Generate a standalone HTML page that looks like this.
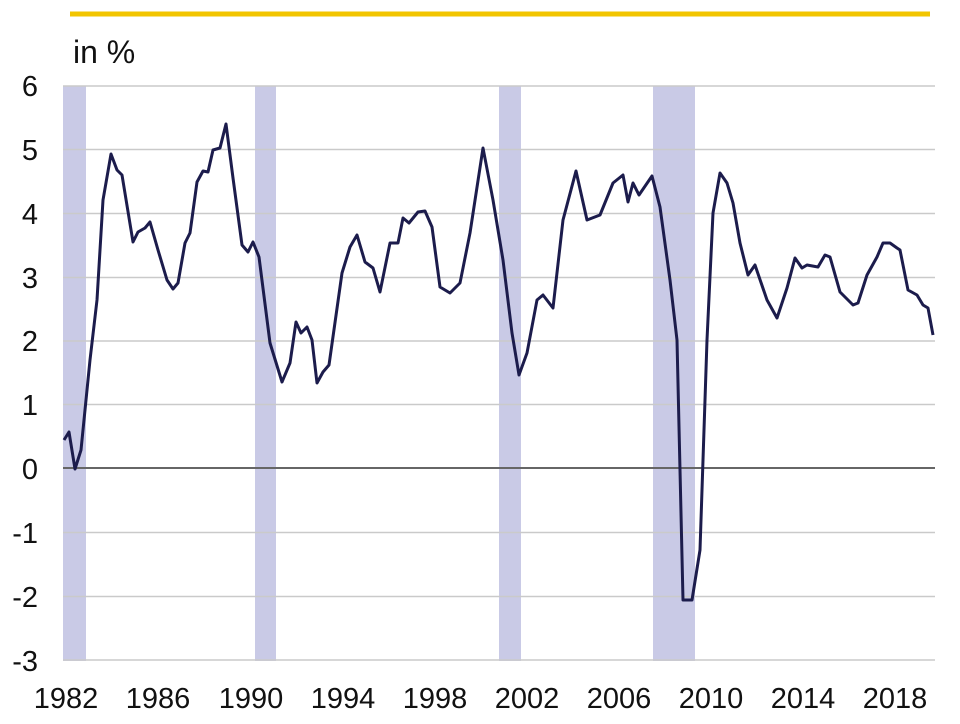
<!DOCTYPE html>
<html><head><meta charset="utf-8"><style>
html,body{margin:0;padding:0;background:#fff;}
svg{display:block;}
text{font-family:"Liberation Sans",Arial,sans-serif;fill:#111;}
</style></head><body>
<svg width="960" height="724" viewBox="0 0 960 724" xmlns="http://www.w3.org/2000/svg">
<rect width="960" height="724" fill="#fff"/>
<line x1="70" y1="14" x2="930" y2="14" stroke="#f2c500" stroke-width="5"/>
<text x="73" y="63" font-size="32">in %</text>
<g fill="#c9cae6">
<rect x="63" y="86" width="23" height="575"/>
<rect x="255" y="86" width="21" height="575"/>
<rect x="499" y="86" width="22" height="575"/>
<rect x="653" y="86" width="42" height="575"/>
</g>
<g stroke="#cacaca" stroke-width="1.6">
<line x1="63" x2="935" y1="86" y2="86"/>
<line x1="63" x2="935" y1="149.5" y2="149.5"/>
<line x1="63" x2="935" y1="213.5" y2="213.5"/>
<line x1="63" x2="935" y1="277.5" y2="277.5"/>
<line x1="63" x2="935" y1="341" y2="341"/>
<line x1="63" x2="935" y1="404.5" y2="404.5"/>
<line x1="63" x2="935" y1="532.5" y2="532.5"/>
<line x1="63" x2="935" y1="596.5" y2="596.5"/>
<line x1="63" x2="935" y1="660" y2="660"/>
</g>
<line x1="63" x2="935" y1="468" y2="468" stroke="#666" stroke-width="2"/>
<g font-size="29" text-anchor="end">
<text x="38" y="96">6</text>
<text x="38" y="160">5</text>
<text x="38" y="224">4</text>
<text x="38" y="288">3</text>
<text x="38" y="351">2</text>
<text x="38" y="415">1</text>
<text x="38" y="479">0</text>
<text x="38" y="543">-1</text>
<text x="38" y="607">-2</text>
<text x="38" y="671">-3</text>
</g>
<g font-size="29" text-anchor="middle">
<text x="66" y="708">1982</text>
<text x="158" y="708">1986</text>
<text x="251" y="708">1990</text>
<text x="343" y="708">1994</text>
<text x="435" y="708">1998</text>
<text x="527" y="708">2002</text>
<text x="619" y="708">2006</text>
<text x="711" y="708">2010</text>
<text x="803" y="708">2014</text>
<text x="895" y="708">2018</text>
</g>
<polyline fill="none" stroke="#1c1c4c" stroke-width="3" stroke-linejoin="round" points="
64,440 69,432 75,469 81,450 90,360 97,300 103,200 111,154 117,170 122,175 133,242 138,232 145,228 150,222 158,250 167,280 173,289 178,283 185,243 190,233 197,182 203,171 208,172 213,150 220,148 226,124 233,178 242,245 248,252 253,242 259,257 270,343 282,382 290,363 296,322 301,333 307,327 312,340 317,383 323,372 329,365 342,273 350,247 357,235 365,262 373,268 380,292 390,243 398,243 403,218 409,223 418,212 425,211 432,227 440,287 450,293 460,283 470,233 483,148 493,200 503,260 512,333 519,375 527,353 537,300 543,295 553,308 563,220 576,171 587,220 600,215 613,183 623,175 628,202 633,183 639,195 652,176 660,207 670,280 677,340 683,600 692,600 700,550 707,340 713,213 720,173 727,183 733,203 740,243 748,275 755,265 767,300 777,318 787,288 795,258 802,268 807,265 818,267 825,255 830,257 840,292 853,305 858,303 867,275 877,257 883,243 890,243 897,248 900,250 908,290 917,295 923,305 928,308 933,335"/>
</svg>
</body></html>
